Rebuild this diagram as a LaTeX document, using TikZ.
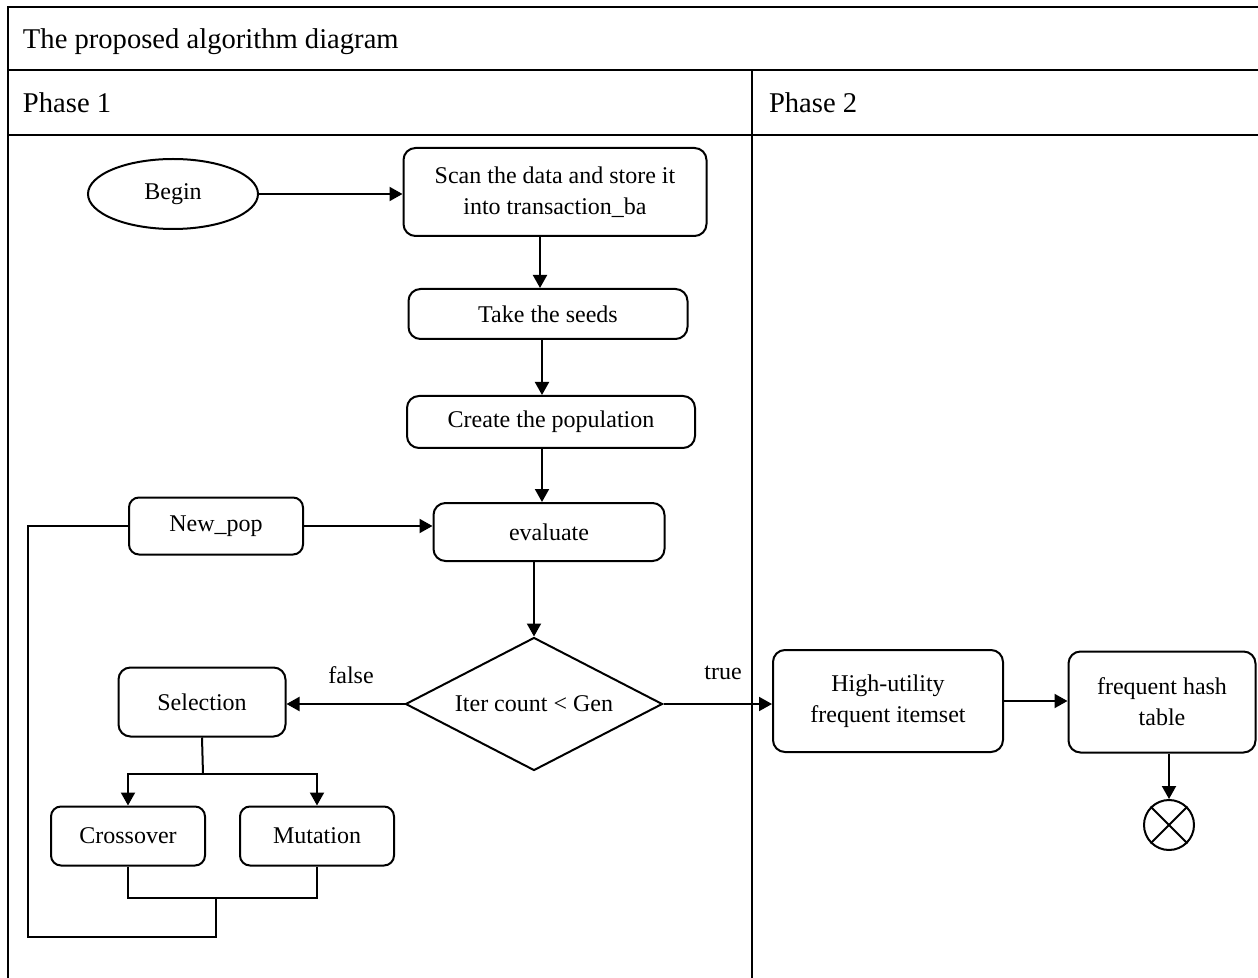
\documentclass[tikz,border=0pt]{standalone}
\usepackage{fontspec}
\setmainfont{Liberation Serif}
\usetikzlibrary{arrows.meta,shapes.geometric}
\begin{document}
\begin{tikzpicture}[x=0.5pt,y=-0.5pt,line width=1pt,
  box/.style={draw,rounded corners=6pt,inner sep=0pt,align=center,
    font=\fontsize{12}{15.5}\selectfont},
  head/.style={anchor=base west,inner sep=0pt,font=\fontsize{14.3}{17}\selectfont},
  arr/.style={-{Triangle[length=6.5pt,width=7pt]}},
  lbl/.style={inner sep=0pt,font=\fontsize{12}{15}\selectfont}]
\useasboundingbox (0,0) rectangle (1258,978);
% table frame
\draw (8,978) -- (8,7) -- (1258,7);
\draw (8,70) -- (1258,70);
\draw (8,135) -- (1258,135);
\draw (752,70) -- (752,978);
\node[head] (title) at (22,49) {The proposed algorithm diagram};
\node[head] (phone) at (22,113) {Phase 1};
\node[head] (phtwo) at (768,113) {Phase 2};
% phase 1
\node[draw,ellipse,inner sep=0pt,minimum width=85pt,minimum height=35pt,
  font=\fontsize{12}{15}\selectfont] (begin) at (173,194) {Begin};
\node[box,minimum width=151.5pt,minimum height=44pt] (scan) at (555,192)
  {Scan the data and store it\\into transaction\_ba};
\node[box,minimum width=139.5pt,minimum height=25pt] (seeds) at (548,314) {Take the seeds};
\node[box,minimum width=144pt,minimum height=26pt] (pop) at (551,422) {Create the population};
\node[box,minimum width=115.5pt,minimum height=29pt] (eval) at (549,532) {evaluate};
\node[box,minimum width=87pt,minimum height=28.5pt,rounded corners=5pt] (newpop) at (216,526) {New\_pop};
\node[draw,diamond,inner sep=0pt,aspect=1.93,minimum width=128.5pt,minimum height=66.5pt,
  font=\fontsize{12}{15}\selectfont] (iter) at (534,704) {Iter count < Gen};
\node[box,minimum width=83.5pt,minimum height=34.5pt] (sel) at (202,702) {Selection};
\node[box,minimum width=77pt,minimum height=29.5pt,rounded corners=5pt] (cross) at (128,836) {Crossover};
\node[box,minimum width=77pt,minimum height=29.5pt,rounded corners=5pt] (mut) at (317,836) {Mutation};
% phase 2
\node[box,minimum width=115pt,minimum height=51pt] (hui) at (888,701)
  {High-utility\\frequent itemset};
\node[box,minimum width=93.5pt,minimum height=50.5pt] (fht) at (1162,702)
  {frequent hash\\table};
\node[draw,circle,inner sep=0pt,minimum size=25pt] (stop) at (1169,825) {};
\draw (stop.north west) -- (stop.south east);
\draw (stop.north east) -- (stop.south west);
\coordinate (fork) at (203,774);
\coordinate (join) at (216,898);
\coordinate (loop) at (28,937);
% connectors
\draw[arr] (begin.east) -- (begin.east -| scan.west);
\draw[arr] (scan.south -| 540,0) -- (seeds.north -| 540,0);
\draw[arr] (seeds.south -| 542,0) -- (pop.north -| 542,0);
\draw[arr] (pop.south -| 542,0) -- (eval.north -| 542,0);
\draw[arr] (eval.south -| iter.north) -- (iter.north);
\draw[arr] (iter.west) -- (iter.west -| sel.east);
\draw[arr] (iter.east) -- (iter.east -| hui.west);
\draw[arr] (hui.east) -- (hui.east -| fht.west);
\draw[arr] (fht.south -| stop.north) -- (stop.north);
\draw (sel.south) -- (fork);
\draw[arr] (fork) -| (cross.north);
\draw[arr] (fork) -| (mut.north);
\draw (cross.south) |- (join);
\draw (mut.south) |- (join);
\draw (join) |- (loop) |- (newpop.west);
\draw[arr] (newpop.east) -- (newpop.east -| eval.west);
\node[lbl] (false) at (351,675) {false};
\node[lbl] (true) at (723,673) {true};
\end{tikzpicture}
\end{document}
